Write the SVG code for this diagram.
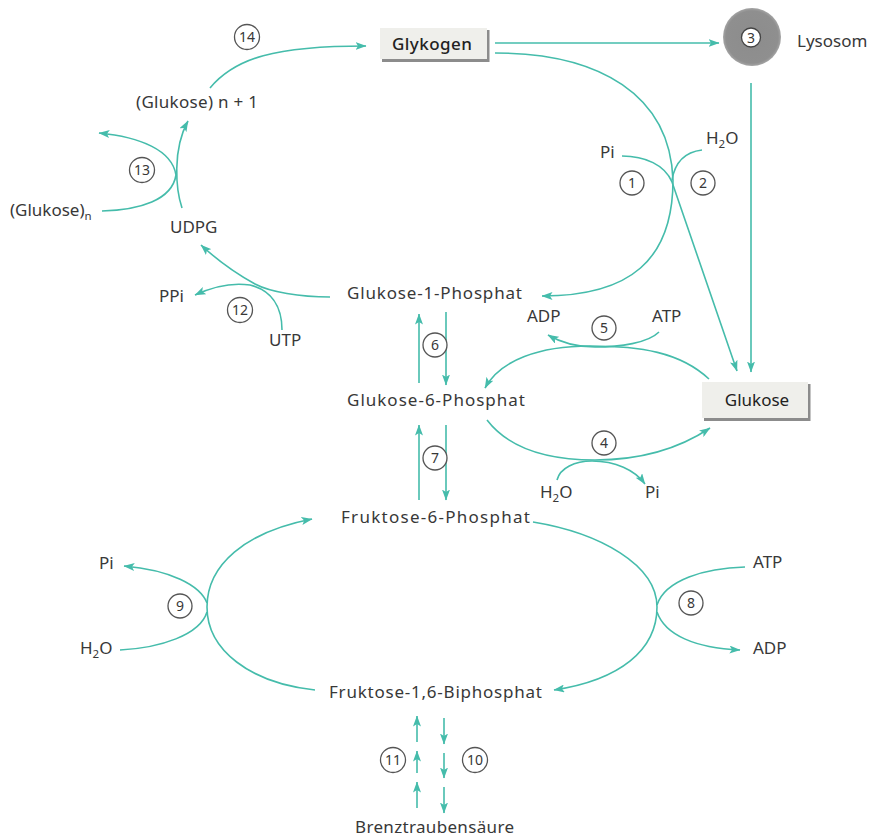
<svg xmlns="http://www.w3.org/2000/svg" width="870" height="837" viewBox="0 0 870 837">
  <defs>
    <marker id="ah" viewBox="0 0 11 8" refX="10.5" refY="4" markerWidth="11" markerHeight="8" orient="auto" markerUnits="userSpaceOnUse">
      <path d="M0,0 L11,4 L0,8 L2.5,4 Z" fill="#45bcab"/>
    </marker>
    <radialGradient id="lyso" cx="50%" cy="50%" r="50%">
      <stop offset="0" stop-color="#8c8c8c"/>
      <stop offset="0.9" stop-color="#8f8f8f"/>
      <stop offset="1" stop-color="#a5a5a5"/>
    </radialGradient>
  </defs>
  <style>
    text { font-family: "Noto Sans", "Open Sans", "Liberation Sans", sans-serif; font-size: 17px; fill: #383838; }
    .sub { font-size: 11.5px; }
    .num { font-size: 14px; text-anchor: middle; fill: #383838; }
    .ring { fill: #fff; stroke: #555; stroke-width: 1.3; }
    .c { fill: none; stroke: #45bcab; stroke-width: 1.6; }
    .a { marker-end: url(#ah); }
    .box { fill: #efefeb; }
    .shade { stroke: #8c8c8c; stroke-width: 3; fill: none; }
  </style>
  <rect width="870" height="837" fill="#fff"/>

  <!-- connectors -->
  <g id="connectors">
    <!-- 14: (Glukose) n+1 -> Glykogen -->
    <path class="c a" d="M210,88 C235,58 275,46 366,46"/>
    <!-- Glykogen -> Lysosom -->
    <path class="c a" d="M495,43 L719,43"/>
    <!-- Glykogen -> Glukose-1-Phosphat (1) -->
    <path class="c a" d="M495,53 C600,53 670,95 673,180 C673,260 630,296 542,296"/>
    <!-- Pi in / route to Glukose (2) -->
    <path class="c a" d="M622,156 C645,156 665,165 672,182 L737,371"/>
    <path class="c" d="M702,150 C685,152 675,162 672,180"/>
    <!-- Lysosom -> Glukose -->
    <path class="c a" d="M751,83 L751,372"/>
    <!-- 5: Glukose -> Glukose-6-Phosphat -->
    <path class="c a" d="M709,379 C680,352 640,346 590,346 C540,346 500,360 485,388"/>
    <path class="c a" d="M659,332 C648,343 620,347 595,347 C575,347 560,342 548,335"/>
    <!-- 4: Glukose-6-Phosphat -> Glukose -->
    <path class="c a" d="M487,420 C510,450 550,460 595,460 C640,460 680,448 710,428"/>
    <path class="c a" d="M557,480 C560,468 575,461 592,461 C615,461 635,470 645,484"/>
    <!-- 6 -->
    <path class="c a" d="M419,383 L419,314"/>
    <path class="c a" d="M446,312 L446,385"/>
    <!-- 7 -->
    <path class="c a" d="M419,500 L419,425"/>
    <path class="c a" d="M446,425 L446,500"/>
    <!-- 9: Fruktose-1,6-Biphosphat -> Fruktose-6-Phosphat -->
    <path class="c a" d="M315,690 C250,683 207,650 207,607 C207,565 245,532 312,519"/>
    <path class="c a" d="M207,603 C200,585 170,570 124,566"/>
    <path class="c" d="M120,650 C160,648 200,635 207,612"/>
    <!-- 8: Fruktose-6-Phosphat -> Fruktose-1,6-Biphosphat -->
    <path class="c a" d="M533,522 C600,533 657,565 657,607 C657,650 620,680 554,690"/>
    <path class="c" d="M745,567 C705,568 665,580 657,605"/>
    <path class="c a" d="M657,612 C665,635 695,648 740,650"/>
    <!-- 10 / 11 -->
    <path class="c a" d="M417,742 L417,716"/>
    <path class="c a" d="M417,773 L417,751"/>
    <path class="c a" d="M417,808 L417,782"/>
    <path class="c a" d="M444,718 L444,744"/>
    <path class="c a" d="M444,753 L444,778"/>
    <path class="c a" d="M444,787 L444,813"/>
    <!-- 12 -->
    <path class="c a" d="M330,297 C300,297 270,292 255,284 C235,273 215,258 201,245"/>
    <path class="c a" d="M282,330 C282,305 270,290 250,285 C230,282 210,288 195,295"/>
    <!-- 13 -->
    <path class="c a" d="M182,208 C176,190 172,150 188,121"/>
    <path class="c a" d="M102,211 C140,210 172,200 176,175 C172,150 140,137 99,133"/>
  </g>

  <!-- nodes -->
  <g id="glykogen">
    <polyline class="shade" points="488,30 488,60.5 382,60.5"/>
    <rect class="box" x="380" y="28" width="107" height="31"/>
    <text x="432" y="50" text-anchor="middle" textLength="80" style="fill:#222;font-weight:500">Glykogen</text>
  </g>
  <g id="lysosom">
    <circle cx="752" cy="37" r="29" fill="url(#lyso)"/>
    <circle cx="751" cy="37.5" r="9.5" fill="#fff" stroke="#444" stroke-width="1.3"/>
    <text class="num" x="751" y="42.5">3</text>
    <text x="797" y="47">Lysosom</text>
  </g>
  <g id="glukose">
    <polyline class="shade" points="809,384 809,419.5 704,419.5"/>
    <rect class="box" x="702" y="382" width="106" height="36"/>
    <text x="757" y="405.5" text-anchor="middle" style="fill:#222">Glukose</text>
  </g>
  <g id="glukose-n1"><text x="136" y="108" textLength="122">(Glukose) n + 1</text></g>
  <g id="glukose-n"><text x="10" y="216">(Glukose)<tspan class="sub" dy="4">n</tspan></text></g>
  <g id="udpg"><text x="170" y="233">UDPG</text></g>
  <g id="ppi"><text x="159" y="302">PPi</text></g>
  <g id="utp"><text x="269" y="346">UTP</text></g>
  <g id="g1p"><text x="347" y="299" textLength="175">Glukose-1-Phosphat</text></g>
  <g id="g6p"><text x="347" y="406" textLength="178">Glukose-6-Phosphat</text></g>
  <g id="f6p"><text x="341" y="523" textLength="189">Fruktose-6-Phosphat</text></g>
  <g id="f16bp"><text x="329" y="698" textLength="213">Fruktose-1,6-Biphosphat</text></g>
  <g id="pyruvat"><text x="355" y="833" textLength="159">Brenztraubensäure</text></g>
  <g id="pi-1"><text x="600" y="158">Pi</text></g>
  <g id="h2o-2"><text x="706" y="144">H<tspan class="sub" dy="4">2</tspan><tspan dy="-4">O</tspan></text></g>
  <g id="adp-5"><text x="527" y="322">ADP</text></g>
  <g id="atp-5"><text x="652" y="322">ATP</text></g>
  <g id="h2o-4"><text x="540" y="498">H<tspan class="sub" dy="4">2</tspan><tspan dy="-4">O</tspan></text></g>
  <g id="pi-4"><text x="645" y="498">Pi</text></g>
  <g id="pi-9"><text x="99" y="569">Pi</text></g>
  <g id="h2o-9"><text x="80" y="654">H<tspan class="sub" dy="4">2</tspan><tspan dy="-4">O</tspan></text></g>
  <g id="atp-8"><text x="753" y="568">ATP</text></g>
  <g id="adp-8"><text x="753" y="654">ADP</text></g>

  <!-- enzyme numbers -->
  <g id="steps">
    <circle class="ring" cx="247" cy="37" r="12.5"/><text class="num" x="247" y="42">14</text>
    <circle class="ring" cx="142" cy="170" r="12.5"/><text class="num" x="142" y="175">13</text>
    <circle class="ring" cx="240" cy="310" r="12.5"/><text class="num" x="240" y="315">12</text>
    <circle class="ring" cx="632" cy="183" r="12"/><text class="num" x="632" y="188">1</text>
    <circle class="ring" cx="703" cy="183" r="12"/><text class="num" x="703" y="188">2</text>
    <circle class="ring" cx="604" cy="328" r="12"/><text class="num" x="604" y="333">5</text>
    <circle class="ring" cx="435" cy="345" r="12"/><text class="num" x="435" y="350">6</text>
    <circle class="ring" cx="604" cy="443" r="12"/><text class="num" x="604" y="448">4</text>
    <circle class="ring" cx="435" cy="458" r="12"/><text class="num" x="435" y="463">7</text>
    <circle class="ring" cx="180" cy="606" r="12"/><text class="num" x="180" y="611">9</text>
    <circle class="ring" cx="691" cy="603" r="12"/><text class="num" x="691" y="608">8</text>
    <circle class="ring" cx="393" cy="760" r="12.5"/><text class="num" x="393" y="765">11</text>
    <circle class="ring" cx="475" cy="760" r="12.5"/><text class="num" x="475" y="765">10</text>
  </g>
</svg>
